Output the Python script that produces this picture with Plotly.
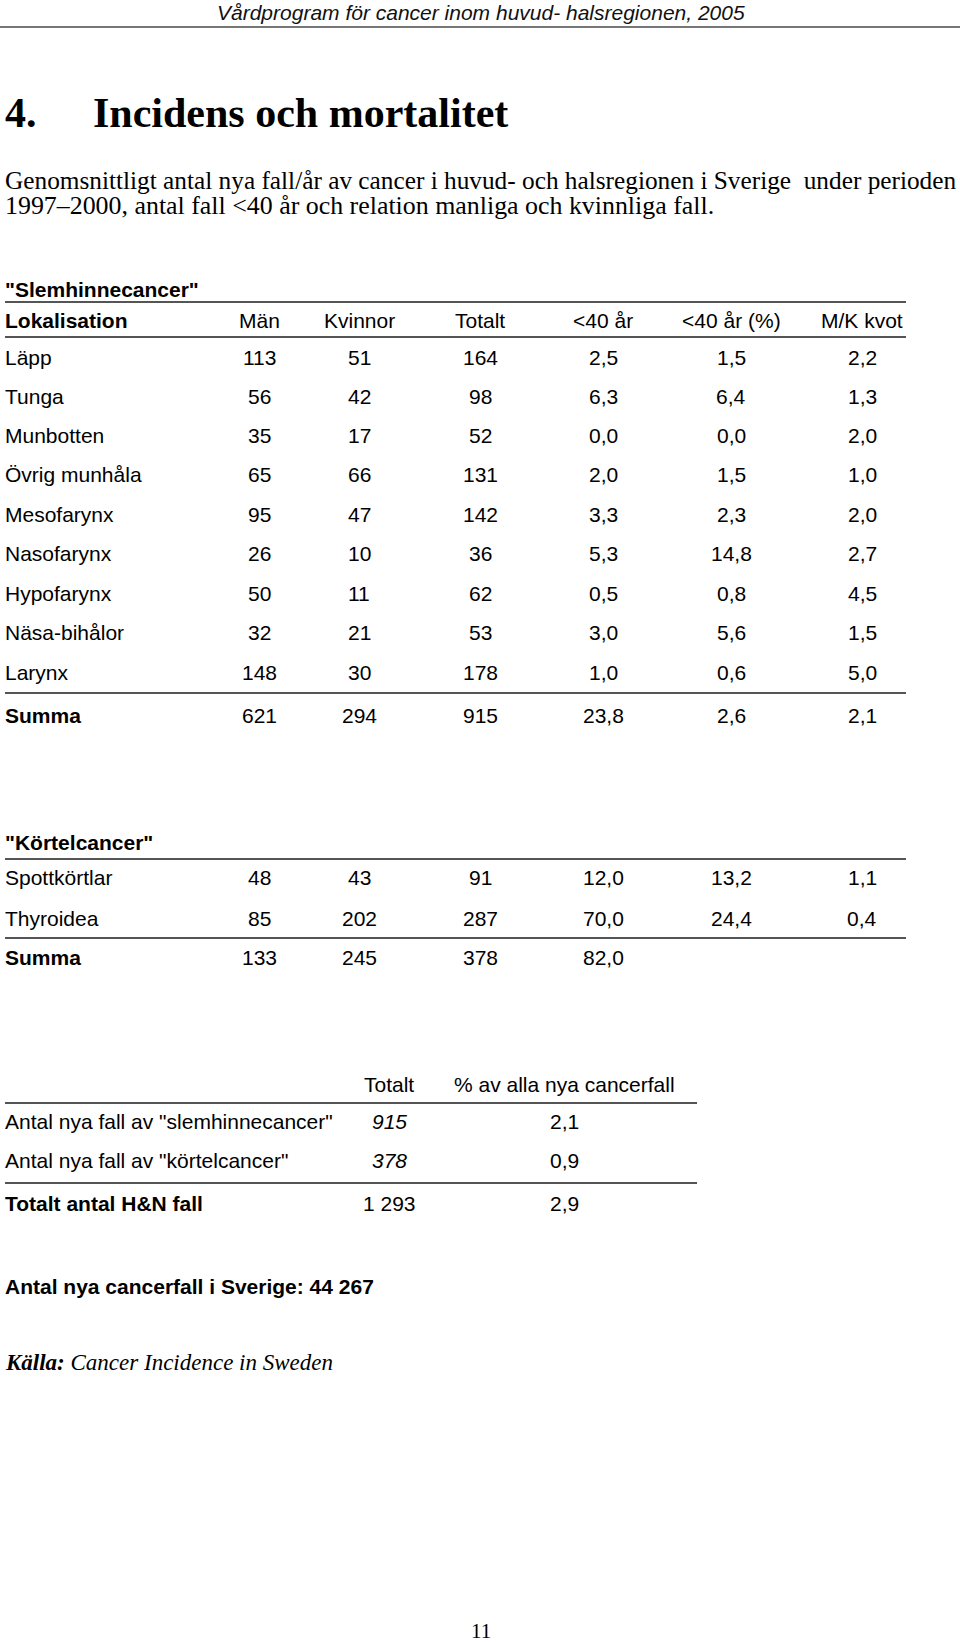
import plotly.graph_objects as go

# ---------------- data ----------------
header_text = "Vårdprogram för cancer inom huvud- halsregionen, 2005"
chapter_no = "4."
chapter_title = "Incidens och mortalitet"
intro_lines = [
    "Genomsnittligt antal nya fall/år av cancer i huvud- och halsregionen i Sverige  under perioden",
    "1997–2000, antal fall <40 år och relation manliga och kvinnliga fall.",
]

col_headers = ["Män", "Kvinnor", "Totalt", "<40 år", "<40 år (%)", "M/K kvot"]

slem_title = '"Slemhinnecancer"'
slem_sites = ["Läpp", "Tunga", "Munbotten", "Övrig munhåla", "Mesofarynx",
              "Nasofarynx", "Hypofarynx", "Näsa-bihålor", "Larynx"]
slem_men = [113, 56, 35, 65, 95, 26, 50, 32, 148]
slem_women = [51, 42, 17, 66, 47, 10, 11, 21, 30]
slem_total = [164, 98, 52, 131, 142, 36, 62, 53, 178]
slem_u40 = [2.5, 6.3, 0.0, 2.0, 3.3, 5.3, 0.5, 3.0, 1.0]
slem_u40_pct = [1.5, 6.4, 0.0, 1.5, 2.3, 14.8, 0.8, 5.6, 0.6]
slem_mk = [2.2, 1.3, 2.0, 1.0, 2.0, 2.7, 4.5, 1.5, 5.0]
slem_sum = [621, 294, 915, 23.8, 2.6, 2.1]

kort_title = '"Körtelcancer"'
kort_sites = ["Spottkörtlar", "Thyroidea"]
kort_men = [48, 85]
kort_women = [43, 202]
kort_total = [91, 287]
kort_u40 = [12.0, 70.0]
kort_u40_pct = [13.2, 24.4]
kort_mk = [1.1, 0.4]
kort_sum = [133, 245, 378, 82.0]

summary_headers = ["Totalt", "% av alla nya cancerfall"]
summary_labels = ['Antal nya fall av "slemhinnecancer"', 'Antal nya fall av "körtelcancer"']
summary_totals = [915, 378]
summary_pct = [2.1, 0.9]
summary_total_label = "Totalt antal H&N fall"
summary_total_value = 1293
summary_total_pct = 2.9

sweden_label = "Antal nya cancerfall i Sverige:"
sweden_total = 44267
source_label = "Källa:"
source_text = "Cancer Incidence in Sweden"
page_number = "11"

# ---------------- helpers ----------------
def dec(v):
    return f"{v:.1f}".replace(".", ",")

def thousands(v):
    return f"{v:,}".replace(",", " ")

SANS = "Liberation Sans, Arial, sans-serif"
SERIF = "Liberation Serif, Times New Roman, serif"
FS = 21
RULE = "#555555"

fig = go.Figure()
ann = []
shapes = []

def text(x, y, s, size=FS, family=SANS, anchor="left", color="black"):
    ann.append(dict(x=x, y=y, xref="x", yref="y", text=s, showarrow=False,
                    xanchor=anchor, yanchor="middle",
                    font=dict(family=family, size=size, color=color)))

def rule(x0, x1, y, w=2, color=RULE):
    shapes.append(dict(type="line", xref="x", yref="y", x0=x0, x1=x1, y0=y, y1=y,
                       line=dict(color=color, width=w)))

# ---------------- layout positions ----------------
LEFT = 3
RLEFT = 5
RRIGHT = 906
col_x = [259, 359, 480, 603, 731, 862]

# page header
text(481, 12, f"<i>{header_text}</i>", size=21, anchor="center", color="#111")
rule(0, 960, 27, w=2, color="#777")

# chapter
text(3, 113, f"<b>{chapter_no}</b>", size=42, family=SERIF)
text(91, 113, f"<b>{chapter_title}</b>", size=42, family=SERIF)

# intro
intro_y = [180, 205]
intro_sizes = [25.3, 25.9]
for yy, line, fs in zip(intro_y, intro_lines, intro_sizes):
    text(LEFT, yy, line, size=fs, family=SERIF)

# table 1
text(LEFT, 289, f"<b>{slem_title}</b>")
rule(RLEFT, RRIGHT, 302)
text(LEFT, 320, "<b>Lokalisation</b>")
for cx, h in zip(col_x, col_headers):
    text(cx, 320, h, anchor="center")
rule(RLEFT, RRIGHT, 337)
row_y = [357, 396, 435, 474, 514, 553, 593, 632, 672]
for i, yy in enumerate(row_y):
    vals = [str(slem_men[i]), str(slem_women[i]), str(slem_total[i]),
            dec(slem_u40[i]), dec(slem_u40_pct[i]), dec(slem_mk[i])]
    text(LEFT, yy, slem_sites[i])
    for cx, v in zip(col_x, vals):
        text(cx, yy, v, anchor="center")
rule(RLEFT, RRIGHT, 693)
text(LEFT, 715, "<b>Summa</b>")
sum_vals = [str(slem_sum[0]), str(slem_sum[1]), str(slem_sum[2]),
            dec(slem_sum[3]), dec(slem_sum[4]), dec(slem_sum[5])]
for cx, v in zip(col_x, sum_vals):
    text(cx, 715, v, anchor="center")

# table 2
text(LEFT, 842, f"<b>{kort_title}</b>")
rule(RLEFT, RRIGHT, 859)
row_y2 = [877, 918]
for i, yy in enumerate(row_y2):
    vals = [str(kort_men[i]), str(kort_women[i]), str(kort_total[i]),
            dec(kort_u40[i]), dec(kort_u40_pct[i]), dec(kort_mk[i])]
    text(LEFT, yy, kort_sites[i])
    for cx, v in zip(col_x, vals):
        text(cx, yy, v, anchor="center")
rule(RLEFT, RRIGHT, 938)
text(LEFT, 957, "<b>Summa</b>")
k_sum_vals = [str(kort_sum[0]), str(kort_sum[1]), str(kort_sum[2]), dec(kort_sum[3])]
for cx, v in zip(col_x, k_sum_vals):
    text(cx, 957, v, anchor="center")

# table 3
s_col = [389, 564]
for cx, h in zip(s_col, summary_headers):
    text(cx, 1084, h, anchor="center")
rule(RLEFT, 697, 1103)
row_y3 = [1121, 1160]
for i, yy in enumerate(row_y3):
    text(LEFT, yy, summary_labels[i])
    text(s_col[0], yy, f"<i>{summary_totals[i]}</i>", anchor="center")
    text(s_col[1], yy, dec(summary_pct[i]), anchor="center")
rule(RLEFT, 697, 1183)
text(LEFT, 1203, f"<b>{summary_total_label}</b>")
text(s_col[0], 1203, thousands(summary_total_value), anchor="center")
text(s_col[1], 1203, dec(summary_total_pct), anchor="center")

# footer notes
text(LEFT, 1286, f"<b>{sweden_label} {thousands(sweden_total)}</b>")
text(LEFT, 1362, f"<b><i>{source_label}</i></b> <i>{source_text}</i>", size=23, family=SERIF)
text(481, 1631, page_number, size=21, family=SERIF, anchor="center")

fig.add_trace(go.Scatter(x=[0, 960], y=[0, 1642], mode="markers",
                         marker=dict(opacity=0), hoverinfo="skip", showlegend=False))

fig.update_layout(
    width=960, height=1642,
    margin=dict(l=0, r=0, t=0, b=0),
    paper_bgcolor="white", plot_bgcolor="white",
    xaxis=dict(range=[0, 960], visible=False, fixedrange=True),
    yaxis=dict(range=[1642, 0], visible=False, fixedrange=True),
    annotations=ann, shapes=shapes, showlegend=False,
)
fig.write_html("out.html",
               config={"displayModeBar": False},
               post_script="document.body.style.margin='0px';document.body.style.overflow='hidden';")
